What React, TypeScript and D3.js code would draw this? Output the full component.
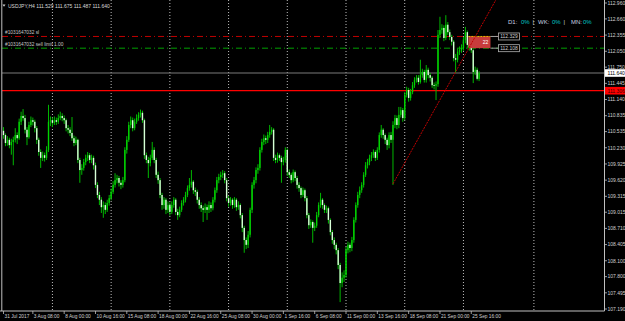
import React from 'react';
import * as d3 from 'd3';

// ---------- data (USDJPY, H4) ----------
const OPEN = [
  110.55, 110.47, 110.32, 110.38, 110.28, 110.34, 110.38, 110.47, 110.41, 110.72,
  110.83, 110.79, 110.57, 110.43, 110.66, 110.75, 110.72, 110.60, 110.38, 110.15,
  110.04, 110.09, 110.04, 110.19, 110.72, 110.75, 110.70, 110.75, 110.72, 110.79,
  110.83, 110.79, 110.75, 110.60, 110.57, 110.51, 110.41, 110.32, 110.38, 110.00,
  109.81, 109.85, 109.96, 110.04, 110.09, 110.00, 110.04, 109.90, 109.53, 109.34,
  109.25, 109.11, 109.15, 109.06, 109.19, 109.28, 109.40, 109.53, 109.62, 109.66,
  109.57, 109.53, 109.62, 110.19, 110.38, 110.66, 110.75, 110.60, 110.72, 110.79,
  110.85, 110.89, 110.75, 110.09, 110.00, 109.94, 110.04, 110.19, 110.00, 109.72,
  109.62, 109.34, 109.15, 109.25, 109.06, 109.15, 109.02, 109.15, 109.25, 109.02,
  108.96, 109.06, 109.19, 109.25, 109.34, 109.47, 109.53, 109.59, 109.43, 109.40,
  109.25, 109.15, 109.09, 109.06, 109.11, 109.06, 109.15, 109.09, 109.25, 109.43,
  109.62, 109.68, 109.72, 109.75, 109.62, 109.28, 109.19, 109.25, 109.15, 109.25,
  109.11, 109.15, 108.96, 108.72, 108.49, 108.40, 108.59, 109.06, 109.53, 109.62,
  109.81, 109.85, 110.19, 110.34, 110.41, 110.38, 110.47, 110.53, 110.57, 110.04,
  110.00, 110.09, 110.04, 109.96, 110.00, 110.19, 109.77, 109.72, 109.62, 109.77,
  109.66, 109.53, 109.47, 109.34, 109.43, 109.28, 108.96, 108.77, 108.83, 108.72,
  108.76, 108.96, 109.15, 109.25, 109.15, 109.06, 109.09, 108.87, 108.64, 108.49,
  108.40, 108.30, 108.02, 107.68, 107.78, 107.83, 108.30, 108.40, 108.34, 108.49,
  108.87, 109.15, 109.34, 109.43, 109.53, 109.72, 109.90, 109.96, 110.04, 110.09,
  110.15, 110.04, 110.19, 110.47, 110.57, 110.47, 110.38, 110.28, 110.47, 110.38,
  110.66, 110.79, 110.66, 110.85, 110.94, 110.79, 111.23, 111.32, 111.17, 111.28,
  111.41, 111.51, 111.55, 111.47, 111.60, 111.66, 111.51, 111.70, 111.60, 111.55,
  111.41, 111.40, 111.43, 112.36, 112.45, 112.49, 112.30, 112.55, 112.41, 112.32,
  112.23, 111.92, 111.89, 112.04, 112.07, 112.11, 112.26, 112.41, 112.17, 112.13,
  112.07, 111.66, 111.70, 111.529,
];
const HIGH = [
  110.62, 110.50, 110.45, 110.42, 110.40, 110.44, 110.60, 110.52, 110.78, 110.91,
  110.96, 110.85, 110.62, 110.72, 110.82, 110.80, 110.76, 110.64, 110.42, 110.20,
  110.16, 110.14, 110.26, 111.04, 110.82, 110.80, 110.82, 110.80, 110.86, 110.91,
  110.88, 110.84, 110.78, 110.66, 110.62, 110.81, 110.46, 110.44, 110.40, 110.04,
  109.92, 110.02, 110.10, 110.15, 110.13, 110.10, 110.08, 109.95, 109.58, 109.40,
  109.30, 109.22, 109.20, 109.25, 109.34, 109.46, 109.60, 109.75, 109.72, 109.70,
  109.62, 109.68, 110.24, 110.45, 110.72, 110.82, 110.80, 110.78, 110.86, 110.90,
  110.95, 110.93, 110.78, 110.14, 110.06, 110.10, 110.34, 110.24, 110.04, 109.78,
  109.66, 109.38, 109.30, 109.28, 109.22, 109.20, 109.22, 109.30, 109.28, 109.08,
  109.12, 109.24, 109.30, 109.40, 109.52, 109.66, 109.81, 109.62, 109.48, 109.44,
  109.30, 109.20, 109.14, 109.18, 109.16, 109.22, 109.20, 109.30, 109.48, 109.68,
  109.74, 109.78, 109.81, 109.79, 109.66, 109.32, 109.30, 109.28, 109.30, 109.28,
  109.22, 109.18, 109.00, 108.76, 108.54, 108.66, 109.10, 109.58, 109.68, 109.86,
  109.92, 110.24, 110.40, 110.48, 110.46, 110.53, 110.66, 110.62, 110.60, 110.10,
  110.14, 110.12, 110.08, 110.06, 110.24, 110.22, 109.82, 109.76, 109.82, 109.80,
  109.70, 109.58, 109.50, 109.48, 109.46, 109.32, 109.00, 108.88, 108.86, 108.82,
  109.02, 109.20, 109.38, 109.28, 109.18, 109.14, 109.12, 108.90, 108.68, 108.54,
  108.44, 108.34, 108.06, 107.88, 107.92, 108.36, 108.46, 108.44, 108.55, 108.92,
  109.20, 109.40, 109.50, 109.58, 109.77, 109.96, 110.02, 110.10, 110.15, 110.20,
  110.18, 110.24, 110.52, 110.66, 110.60, 110.50, 110.42, 110.52, 110.53, 110.73,
  110.85, 110.84, 111.00, 111.00, 110.98, 111.28, 111.38, 111.36, 111.34, 111.47,
  111.56, 111.60, 111.60, 111.89, 111.72, 111.70, 111.79, 111.74, 111.64, 111.58,
  111.46, 111.48, 112.45, 112.70, 112.56, 112.54, 112.73, 112.60, 112.46, 112.36,
  112.26, 112.00, 112.10, 112.14, 112.18, 112.32, 112.51, 112.44, 112.22, 112.18,
  112.10, 111.76, 111.74, 111.675,
];
const LOW = [
  110.40, 110.26, 110.27, 110.22, 110.10, 109.90, 110.33, 110.30, 110.38, 110.66,
  110.74, 110.50, 110.28, 110.40, 110.62, 110.65, 110.52, 110.30, 110.08, 109.85,
  109.98, 109.97, 110.00, 110.15, 110.64, 110.62, 110.66, 110.66, 110.68, 110.75,
  110.73, 110.68, 110.54, 110.50, 110.45, 110.36, 110.26, 110.28, 109.94, 109.57,
  109.72, 109.80, 109.90, 109.98, 109.94, 109.94, 109.82, 109.47, 109.28, 109.15,
  109.00, 108.91, 108.98, 109.02, 109.14, 109.24, 109.36, 109.48, 109.56, 109.50,
  109.45, 109.48, 109.58, 110.12, 110.34, 110.60, 110.54, 110.56, 110.68, 110.74,
  110.80, 110.70, 110.02, 109.94, 109.66, 109.88, 110.00, 109.94, 109.66, 109.55,
  109.28, 109.06, 109.08, 108.98, 109.00, 108.95, 108.98, 109.10, 108.96, 108.87,
  108.92, 109.02, 109.14, 109.20, 109.30, 109.42, 109.48, 109.36, 109.32, 109.18,
  109.08, 109.02, 108.83, 109.00, 108.87, 109.00, 109.02, 109.05, 109.20, 109.38,
  109.56, 109.62, 109.66, 109.56, 109.22, 109.12, 109.14, 109.08, 109.10, 109.04,
  109.06, 108.90, 108.64, 108.25, 108.32, 108.34, 108.54, 109.00, 109.46, 109.56,
  109.74, 109.80, 110.14, 110.28, 110.30, 110.32, 110.42, 110.48, 109.98, 109.94,
  109.95, 109.98, 109.57, 109.90, 109.95, 109.70, 109.66, 109.56, 109.58, 109.60,
  109.46, 109.40, 109.28, 109.30, 109.22, 108.90, 108.70, 108.72, 108.44, 108.66,
  108.72, 108.92, 109.10, 109.08, 109.00, 109.00, 108.80, 108.58, 108.42, 108.32,
  108.22, 107.94, 107.32, 107.60, 107.70, 107.78, 108.24, 108.26, 108.28, 108.44,
  108.82, 109.10, 109.28, 109.38, 109.48, 109.68, 109.84, 109.90, 109.98, 110.04,
  109.98, 110.00, 110.14, 110.42, 110.40, 110.30, 110.19, 110.22, 110.32, 109.53,
  110.60, 110.58, 110.60, 110.80, 110.72, 110.75, 111.18, 111.10, 111.12, 111.24,
  111.36, 111.46, 111.42, 111.44, 111.55, 111.46, 111.46, 111.54, 111.48, 111.36,
  111.33, 111.13, 111.38, 112.30, 112.38, 112.24, 112.26, 112.36, 112.26, 112.16,
  111.86, 111.64, 111.84, 111.98, 112.02, 112.06, 112.20, 112.10, 112.06, 112.02,
  111.45, 111.60, 111.50, 111.487,
];
const CLOSE = [
  110.47, 110.32, 110.38, 110.28, 110.34, 110.38, 110.47, 110.41, 110.72, 110.83,
  110.79, 110.57, 110.43, 110.66, 110.75, 110.72, 110.60, 110.38, 110.15, 110.04,
  110.09, 110.04, 110.19, 110.72, 110.75, 110.70, 110.75, 110.72, 110.79, 110.83,
  110.79, 110.75, 110.60, 110.57, 110.51, 110.41, 110.32, 110.38, 110.00, 109.81,
  109.85, 109.96, 110.04, 110.09, 110.00, 110.04, 109.90, 109.53, 109.34, 109.25,
  109.11, 109.15, 109.06, 109.19, 109.28, 109.40, 109.53, 109.62, 109.66, 109.57,
  109.53, 109.62, 110.19, 110.38, 110.66, 110.75, 110.60, 110.72, 110.79, 110.85,
  110.89, 110.75, 110.09, 110.00, 109.94, 110.04, 110.19, 110.00, 109.72, 109.62,
  109.34, 109.15, 109.25, 109.06, 109.15, 109.02, 109.15, 109.25, 109.02, 108.96,
  109.06, 109.19, 109.25, 109.34, 109.47, 109.53, 109.59, 109.43, 109.40, 109.25,
  109.15, 109.09, 109.06, 109.11, 109.06, 109.15, 109.09, 109.25, 109.43, 109.62,
  109.68, 109.72, 109.75, 109.62, 109.28, 109.19, 109.25, 109.15, 109.25, 109.11,
  109.15, 108.96, 108.72, 108.49, 108.40, 108.59, 109.06, 109.53, 109.62, 109.81,
  109.85, 110.19, 110.34, 110.41, 110.38, 110.47, 110.53, 110.57, 110.04, 110.00,
  110.09, 110.04, 109.96, 110.00, 110.19, 109.77, 109.72, 109.62, 109.77, 109.66,
  109.53, 109.47, 109.34, 109.43, 109.28, 108.96, 108.77, 108.83, 108.72, 108.76,
  108.96, 109.15, 109.25, 109.15, 109.06, 109.09, 108.87, 108.64, 108.49, 108.40,
  108.30, 108.02, 107.68, 107.78, 107.83, 108.30, 108.40, 108.34, 108.49, 108.87,
  109.15, 109.34, 109.43, 109.53, 109.72, 109.90, 109.96, 110.04, 110.09, 110.15,
  110.04, 110.19, 110.47, 110.57, 110.47, 110.38, 110.28, 110.47, 110.38, 110.66,
  110.79, 110.66, 110.85, 110.94, 110.79, 111.23, 111.32, 111.17, 111.28, 111.41,
  111.51, 111.55, 111.47, 111.60, 111.66, 111.51, 111.70, 111.60, 111.55, 111.41,
  111.40, 111.43, 112.36, 112.45, 112.49, 112.30, 112.55, 112.41, 112.32, 112.23,
  111.92, 111.89, 112.04, 112.07, 112.11, 112.26, 112.41, 112.17, 112.13, 112.07,
  111.66, 111.70, 111.53, 111.64,
];

const Y_TICKS = [
  '112.960', '112.660', '112.355', '112.050', '111.750', '111.445', '111.140',
  '110.835', '110.535', '110.230', '109.925', '109.620', '109.315', '109.015',
  '108.710', '108.405', '108.100', '107.800', '107.495', '107.190',
];
const X_TICK_BARS = [0, 15, 31, 47, 63, 79, 95, 111, 127, 143, 159, 175, 191, 207, 223, 239];
const X_TICK_LABELS = [
  '31 Jul 2017', '3 Aug 08:00', '8 Aug 00:00', '10 Aug 16:00', '15 Aug 08:00',
  '18 Aug 00:00', '22 Aug 16:00', '25 Aug 08:00', '30 Aug 00:00', '1 Sep 16:00',
  '6 Sep 08:00', '11 Sep 00:00', '13 Sep 16:00', '18 Sep 08:00', '21 Sep 00:00',
  '25 Sep 16:00',
];
const SEPARATOR_BARS = [25, 55, 85, 115, 145, 175, 205, 235, 271];

const HEADER = 'USDJPY,H4  111.529 111.675 111.487 111.640';
const RED_LEVEL = 111.306;
const BID = 111.64;
const SL_PRICE = 112.329;
const LIMIT_PRICE = 112.108;
const SL_TEXT = '#1031647032 sl';
const LIMIT_TEXT = '#1031647032 sell limit 1.00';
const ORDER_BOX_BARS = [237.5, 248.8];
const ORDER_BOX_TEXT = '22';
const TREND_POINTS: [number, number][] = [[199, 109.55], [249, 112.85]];
const STATS = [['D1:', '0%'], ['WK:', '0%'], ['MN:', '0%']];

const FONT = 'Liberation Sans, Arial, sans-serif';

export default function App() {
  const W = 625, H = 321;
  const plotRight = 604.5, plotBottom = 311, plotLeft = 2;
  const x = d3.scaleLinear().domain([0, 243]).range([3.5, 479.1]);
  const y = d3.scaleLinear().domain([107.19, 112.96]).range([309, 3]);

  // trend ray
  const [t0, t1] = TREND_POINTS;
  const slope = (t1[1] - t0[1]) / (t1[0] - t0[0]);
  const tEnd = 262;
  const trendPath = d3.line()([[x(t0[0]), y(t0[1])], [x(tEnd), y(t0[1] + slope * (tEnd - t0[0]))]]);

  const candles = CLOSE.map((c, i) => {
    const o = OPEN[i];
    const cx = x(i);
    const bull = c >= o;
    const top = y(Math.max(o, c));
    const bot = y(Math.min(o, c));
    return (
      <g key={i}>
        <line x1={cx} x2={cx} y1={y(HIGH[i])} y2={y(LOW[i])} stroke="#00b800" strokeWidth={1} />
        <rect x={cx - 0.7} y={top} width={1.4} height={Math.max(0.8, bot - top)}
          fill={bull ? '#00d400' : '#d8ffd8'} />
      </g>
    );
  });

  const statX = [508, 538, 571];
  const valX = [521, 552, 583];

  return (
    <div style={{ position: 'absolute', left: 0, top: 0 }}>
      <svg width={W} height={H} style={{ display: 'block' }} fontFamily={FONT}>
        <defs>
          <clipPath id="plotClip">
            <rect x={plotLeft} y={0} width={plotRight - plotLeft} height={plotBottom} />
          </clipPath>
        </defs>
        <rect x={0} y={0} width={W} height={H} fill="#000" />

        {/* week separators */}
        {SEPARATOR_BARS.map((b) => (
          <line key={b} x1={x(b)} x2={x(b)} y1={0} y2={plotBottom} stroke="#bdbdbd"
            strokeWidth={1} strokeDasharray="1 2" />
        ))}

        {/* horizontal levels */}
        <line x1={plotLeft} x2={plotRight} y1={y(BID)} y2={y(BID)} stroke="#7a7a7a" strokeWidth={1} />
        <line x1={plotLeft} x2={plotRight} y1={y(RED_LEVEL)} y2={y(RED_LEVEL)} stroke="#ff0000" strokeWidth={1.3} />
        <line x1={plotLeft} x2={plotRight} y1={y(SL_PRICE)} y2={y(SL_PRICE)} stroke="#c00000"
          strokeWidth={1} strokeDasharray="6 3 1 3" />
        <line x1={plotLeft} x2={plotRight} y1={y(LIMIT_PRICE)} y2={y(LIMIT_PRICE)} stroke="#00a000"
          strokeWidth={1} strokeDasharray="6 3 1 3" />

        {/* candles */}
        <g clipPath="url(#plotClip)">{candles}</g>

        {/* order box */}
        <rect x={x(ORDER_BOX_BARS[0])} y={y(SL_PRICE)} width={x(ORDER_BOX_BARS[1]) - x(ORDER_BOX_BARS[0])}
          height={y(LIMIT_PRICE) - y(SL_PRICE)} fill="#c83c3c" />
        <line x1={x(ORDER_BOX_BARS[0])} x2={x(ORDER_BOX_BARS[1])} y1={y(SL_PRICE)} y2={y(SL_PRICE)}
          stroke="#e0c000" strokeWidth={1} strokeDasharray="2 1" />
        <text x={x(ORDER_BOX_BARS[1]) - 5} y={y((SL_PRICE + LIMIT_PRICE) / 2) + 2} fontSize={5}
          fill="#ffffff" textAnchor="middle">{ORDER_BOX_TEXT}</text>

        {/* trend line */}
        <g clipPath="url(#plotClip)">
          <path d={trendPath || ''} stroke="#c00000" strokeWidth={1} strokeDasharray="2 1" fill="none" />
        </g>

        {/* order price labels */}
        {[SL_PRICE, LIMIT_PRICE].map((p) => (
          <g key={p}>
            <line x1={x(ORDER_BOX_BARS[1])} x2={498} y1={y(p)} y2={y(p)} stroke="#a0a0a0" strokeWidth={1} />
            <rect x={498.5} y={y(p) - 3.5} width={21} height={7} fill="#000" stroke="#b0b0b0" strokeWidth={0.8} />
            <text x={509} y={y(p) + 1.8} fontSize={5} fill="#d0d0d0" textAnchor="middle">{p.toFixed(3)}</text>
          </g>
        ))}

        {/* texts */}
        <path d="M2.5,4.5 L5.5,4.5 L4,6.8 Z" fill="#d0d0d0" />
        <text x={8} y={7.6} fontSize={5} fill="#d8d8d8">{HEADER}</text>
        <text x={5} y={y(SL_PRICE) - 2} fontSize={4.8} fill="#c8c8c8">{SL_TEXT}</text>
        <text x={5} y={y(LIMIT_PRICE) - 2} fontSize={4.8} fill="#c8c8c8">{LIMIT_TEXT}</text>

        {STATS.map(([k, v], i) => (
          <g key={k}>
            <text x={statX[i]} y={24.2} fontSize={6} fill="#c8d0e0">{k}</text>
            <text x={valX[i]} y={24.2} fontSize={6} fill="#00c4c4">{v}</text>
            {i < STATS.length - 1 && (
              <text x={valX[i] + 11.5} y={24.2} fontSize={6} fill="#d0d0d0">|</text>
            )}
          </g>
        ))}

        {/* frame */}
        <line x1={1.8} x2={1.8} y1={0} y2={plotBottom} stroke="#c0c0c0" strokeWidth={1} />
        <line x1={0} x2={plotRight} y1={plotBottom} y2={plotBottom} stroke="#c0c0c0" strokeWidth={1} />
        <line x1={plotRight} x2={plotRight} y1={0} y2={plotBottom} stroke="#c0c0c0" strokeWidth={1} />

        {/* y axis */}
        {Y_TICKS.map((t) => {
          const yy = y(+t);
          return (
            <g key={t}>
              <line x1={plotRight} x2={plotRight + 2.5} y1={yy} y2={yy} stroke="#c0c0c0" strokeWidth={0.8} />
              <text x={607.5} y={yy + 1.8} fontSize={5} fill="#d0d0d0">{t}</text>
            </g>
          );
        })}
        <rect x={605} y={y(BID) - 3.8} width={20} height={7.6} fill="#ffffff" />
        <text x={607.5} y={y(BID) + 1.8} fontSize={5} fill="#000">{BID.toFixed(3)}</text>
        <rect x={605} y={y(RED_LEVEL) - 3.8} width={20} height={7.6} fill="#ff0000" />
        <text x={607.5} y={y(RED_LEVEL) + 1.8} fontSize={5} fill="#400000">{RED_LEVEL.toFixed(3)}</text>

        {/* x axis */}
        {X_TICK_BARS.map((b, i) => (
          <g key={b}>
            <line x1={x(b)} x2={x(b)} y1={plotBottom} y2={plotBottom + 3} stroke="#c0c0c0" strokeWidth={0.8} />
            <text x={x(b) + 1} y={318} fontSize={4.8} fill="#d0d0d0">{X_TICK_LABELS[i]}</text>
          </g>
        ))}
      </svg>
    </div>
  );
}
